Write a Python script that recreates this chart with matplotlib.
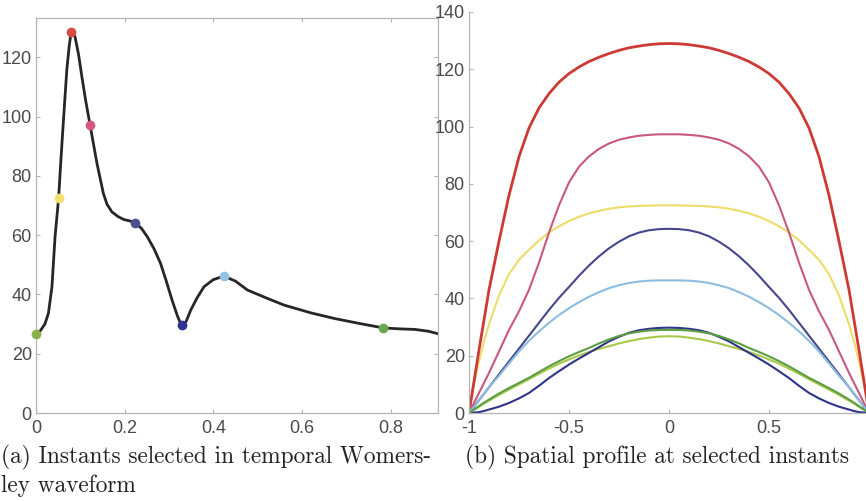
import numpy as np
import matplotlib
matplotlib.use("Agg")
from matplotlib import pyplot as plt

plt.rcParams['axes.unicode_minus'] = False

# (a) temporal waveform
t_wave = [0, 0.01, 0.02, 0.028, 0.036, 0.043, 0.051, 0.056, 0.062, 0.0695, 0.075,
          0.0785, 0.080, 0.083, 0.088, 0.096, 0.1035, 0.112, 0.122, 0.13, 0.1375, 0.145, 0.152,
          0.16, 0.171, 0.185, 0.198, 0.212, 0.224, 0.238, 0.251, 0.266, 0.281,
          0.294, 0.307, 0.319, 0.326, 0.330, 0.334, 0.339, 0.349, 0.364, 0.379, 0.40, 0.424,
          0.45, 0.477, 0.52, 0.560, 0.62, 0.673, 0.73, 0.784, 0.82, 0.855, 0.885, 0.911]
q_wave = [26.8, 27.8, 30, 33.6, 42.6, 59.5, 72.4, 85, 98.9, 115.8, 124,
          127.6, 128.7, 128.6, 127, 121, 113.5, 105.5, 97.2, 90.5, 84.3, 79, 74.1,
          70.5, 67.9, 66.3, 65.3, 64.8, 64.2, 62.3, 59.5, 55.5, 50.5,
          44.5, 38.1, 32.8, 30.3, 29.6, 29.9, 31, 34.7, 39, 42.6, 45, 46.2,
          44.5, 41.5, 38.8, 36.4, 33.8, 31.9, 30.2, 28.7, 28.4, 28.2, 27.6, 26.6]

# selected instants
t_sel = [0, 0.051, 0.080, 0.122, 0.224, 0.330, 0.424, 0.784]
q_sel = [26.8, 72.4, 128.7, 97.2, 64.2, 29.6, 46.2, 28.7]
dot_colors = ['#8db04a', '#f2e070', '#d84a44', '#d4567e', '#4e4f92', '#2f3290', '#92c2e4', '#68a84c']
line_colors = ['#a8c848', '#eedc6a', '#cc3a36', '#c8587c', '#46468a', '#303488', '#8cbde0', '#5c9e44']

# (b) spatial profiles, half from wall to centre (symmetric)
r_half = [-1, -0.975, -0.95, -0.925, -0.9, -0.85, -0.8, -0.75, -0.7, -0.65, -0.6, -0.55,
          -0.5, -0.45, -0.4, -0.35, -0.3, -0.25, -0.2, -0.15, -0.1, -0.05, 0]
prof_t0 = [0, 1.1, 2.2, 3.3, 4.3, 6.3, 8.2, 10, 11.8, 13.7, 15.5, 17.2,
           18.7, 20.1, 21.3, 22.4, 23.3, 24.3, 25.1, 25.8, 26.3, 26.7, 26.8]
prof_t1 = [0, 10, 18, 25, 31, 41, 48.5, 53.5, 57, 60.3, 63, 65.2,
           67, 68.5, 69.7, 70.6, 71.3, 71.8, 72.1, 72.3, 72.4, 72.5, 72.5]
prof_t2 = [0, 11, 22, 32.5, 43, 60, 76, 89.5, 99.5, 106.5, 111.5, 115.5,
           118.5, 120.8, 122.7, 124.2, 125.5, 126.6, 127.5, 128.1, 128.6, 128.9, 129]
prof_t3 = [0, 3.5, 7, 10.5, 14, 21.5, 29, 35.5, 43, 52.5, 63, 72.5,
           80.5, 86, 89.6, 92.2, 94.1, 95.4, 96.2, 96.8, 97.1, 97.3, 97.3]
prof_t4 = [0, 2.2, 4.5, 6.7, 9, 13.5, 18, 22.5, 27, 31.5, 36, 40.2,
           44, 47.9, 51.5, 54.7, 57.5, 59.8, 61.7, 63, 63.8, 64.2, 64.3]
prof_t5 = [0, 0.15, 0.3, 0.7, 1.2, 2.2, 3.5, 5.1, 7, 9.5, 12.2, 14.6,
           16.9, 19, 21, 23, 25, 26.6, 28, 28.9, 29.4, 29.7, 29.8]
prof_t6 = [0, 2.2, 4.5, 6.7, 9, 13, 17.3, 21.5, 25.2, 28.5, 31.5, 34.2,
           36.6, 38.7, 40.6, 42.2, 43.6, 44.6, 45.4, 45.9, 46.2, 46.3, 46.3]
prof_t7 = [0, 1.2, 2.4, 3.6, 4.7, 6.8, 8.7, 10.5, 12.3, 14.3, 16.3, 18.1,
           19.8, 21.3, 22.7, 24.3, 25.7, 26.9, 27.8, 28.4, 28.8, 29, 29]
profiles = [prof_t0, prof_t1, prof_t2, prof_t3, prof_t4, prof_t5, prof_t6, prof_t7]

tick_font = ['Liberation Sans Narrow', 'Liberation Sans', 'DejaVu Sans']
grey = '#b4b4b4'


def style(ax):
  ax.tick_params(direction='in', length=3, width=0.8, color=grey,
                 labelsize=13, labelcolor='#4a4a4a', pad=3)
  ax.tick_params(axis='x', pad=5)
  for lab in ax.get_xticklabels() + ax.get_yticklabels():
    lab.set_family(tick_font)
  for s in ax.spines.values():
    s.set_color(grey)
    s.set_linewidth(0.9)


fig = plt.figure(figsize=(8.66, 5.01), dpi=100)

# ---- (a)
ax1 = fig.add_axes([36/866, 88/501, 402/866, 395/501])
ax1.plot(t_wave, q_wave, '-', color='#262626', linewidth=2.0)
for t, q, c in zip(t_sel, q_sel, dot_colors):
  ax1.plot(t, q, 'o', color=c, markersize=7, markeredgewidth=0, clip_on=False, zorder=3)
ax1.set_xlim(0, 0.907)
ax1.set_ylim(0, 133.3)
ax1.set_xticks([0, 0.2, 0.4, 0.6, 0.8])
ax1.set_xticklabels(['0', '0.2', '0.4', '0.6', '0.8'])
ax1.set_yticks([0, 20, 40, 60, 80, 100, 120])
ax1.tick_params(top=True, right=True)
style(ax1)

# ---- (b)
ax2 = fig.add_axes([469/866, 88/501, 400/866, 401/501])
r_full = np.concatenate([r_half, -np.array(r_half[-2::-1])])
for prof, c in zip(profiles, line_colors):
  v_full = np.concatenate([prof, prof[-2::-1]])
  lw = 2.0 if c == '#cc3a36' else 1.5
  ax2.plot(r_full, v_full, '-', color=c, linewidth=lw)
ax2.set_xlim(-1, 1)
ax2.set_ylim(0, 140)
ax2.set_xticks([-1, -0.5, 0, 0.5])
ax2.set_xticklabels(['-1', '-0.5', '0', '0.5'])
ax2.set_yticks([0, 20, 40, 60, 80, 100, 120, 140])
ax2.spines['top'].set_visible(False)
style(ax2)

# captions
cap = dict(family='cmr10', fontsize=16.8, color='#222222')
fig.text(1/866, 1 - 463/501, '(a) Instants selected in temporal Womers-', **cap)
fig.text(1/866, 1 - 492/501, 'ley waveform', **cap)
fig.text(465/866, 1 - 463/501, '(b) Spatial profile at selected instants', **cap)

fig.savefig('out.png', dpi=100)
